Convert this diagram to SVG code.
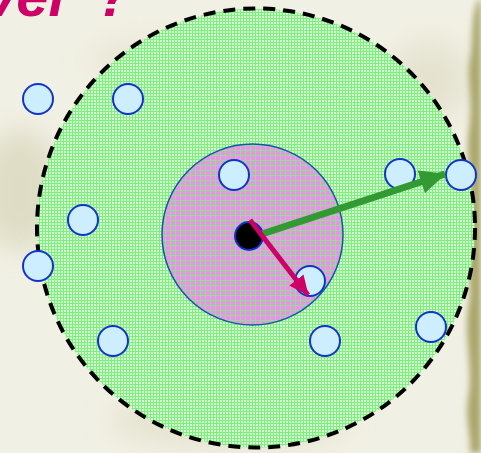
<svg xmlns="http://www.w3.org/2000/svg" width="481" height="453" viewBox="0 0 481 453">
<style>
.node{fill:#cceeff;stroke:#1133cc;stroke-width:2}
.title{font-family:"Liberation Sans",Arial,sans-serif;font-weight:bold;font-style:italic;font-size:58px;fill:#cc0066}
</style>
<defs>
<pattern id="pg" width="3" height="3" patternUnits="userSpaceOnUse">
<rect width="3" height="3" fill="#d4fcd0"/>
<rect width="3" height="1" fill="#80ee80"/>
<rect width="1" height="3" fill="#80ee80"/>
</pattern>
<pattern id="pp" width="5" height="5" patternUnits="userSpaceOnUse">
<rect width="5" height="5" fill="#ec90ec"/>
<rect width="5" height="1" fill="#90e090"/>
<rect width="1" height="5" fill="#90e090"/>
</pattern>
<filter id="blur" x="-50%" y="-50%" width="200%" height="200%"><feGaussianBlur stdDeviation="14"/></filter>
<filter id="blur2" x="-50%" y="-50%" width="200%" height="200%"><feGaussianBlur stdDeviation="3"/></filter>
<marker id="ag" markerWidth="26" markerHeight="24" refX="25" refY="12" orient="auto" markerUnits="userSpaceOnUse">
<path d="M0,0 L26,12 L0,24 z" fill="#339933"/>
</marker>
<marker id="am" markerWidth="20" markerHeight="18" refX="19" refY="9" orient="auto" markerUnits="userSpaceOnUse">
<path d="M0,0 L20,9 L0,18 z" fill="#cc0066"/>
</marker>
</defs>
<g id="background">
<rect width="481" height="453" fill="#f1f0e4"/>
<g filter="url(#blur)" opacity="0.7">
<ellipse cx="20" cy="190" rx="40" ry="60" fill="#d6d4b8"/>
<ellipse cx="160" cy="60" rx="70" ry="20" fill="#e4e2cc"/>
<ellipse cx="230" cy="420" rx="120" ry="25" fill="#dedcc4"/>
<ellipse cx="430" cy="80" rx="40" ry="40" fill="#e0dec8"/>
</g>
<path filter="url(#blur2)" d="M481,0 L478,0 C470,20 474,40 470,60 C466,80 474,100 469,130 C465,160 474,190 468,220 C463,250 474,280 468,310 C464,340 474,370 468,400 C465,420 472,440 470,453 L481,453 Z" fill="#a9a66a"/>
</g>
<g id="range">
<ellipse cx="256" cy="228" rx="219" ry="219.5" fill="url(#pg)" stroke="#000" stroke-width="4" stroke-dasharray="12 8"/>
</g>
<g id="inner-range">
<circle cx="252.5" cy="234.5" r="90.5" fill="url(#pp)" stroke="#1155aa" stroke-width="1.5"/>
</g>
<g id="nodes">
<circle id="n1" class="node" cx="38" cy="99" r="15"/>
<circle id="n2" class="node" cx="128" cy="99" r="15"/>
<circle id="n3" class="node" cx="234" cy="175" r="15"/>
<circle id="n4" class="node" cx="400" cy="174" r="15"/>
<circle id="n5" class="node" cx="461" cy="175" r="15"/>
<circle id="n6" class="node" cx="83" cy="220" r="15"/>
<circle id="n7" class="node" cx="38" cy="266" r="15"/>
<circle id="n8" class="node" cx="310" cy="281" r="15"/>
<circle id="n9" class="node" cx="113" cy="341" r="15"/>
<circle id="n10" class="node" cx="325" cy="341" r="15"/>
<circle id="n11" class="node" cx="431" cy="327" r="15"/>
<circle id="center" cx="249" cy="236" r="14" fill="#000" stroke="#1133cc" stroke-width="2"/>
</g>
<g id="connectors">
<line x1="262" y1="234" x2="445" y2="174" stroke="#339933" stroke-width="7" marker-end="url(#ag)"/>
<line x1="250" y1="220" x2="308" y2="295" stroke="#cc0066" stroke-width="5" marker-end="url(#am)"/>
</g>
<text class="title" x="-16" y="16">ver<tspan x="96">?</tspan></text>
</svg>
